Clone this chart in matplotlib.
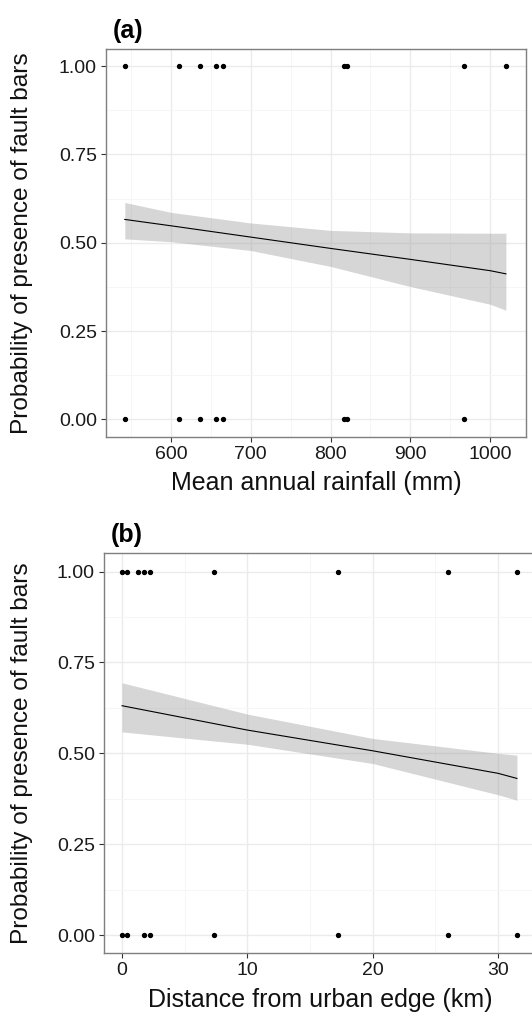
import matplotlib
matplotlib.use("Agg")
import matplotlib.pyplot as plt

plt.rcParams['font.family'] = ['Liberation Sans', 'DejaVu Sans']

# (a) rainfall: sites with / without fault bars
rain_pres = [542, 610, 636, 656, 665, 817, 821, 968, 1020]
rain_abs = [542, 610, 636, 656, 665, 817, 821, 968]
# fitted probability and 95% band
rain_fit_x = [542, 600, 700, 800, 900, 1000, 1020]
rain_fit = [0.566, 0.548, 0.516, 0.484, 0.453, 0.421, 0.412]
rain_hi = [0.614, 0.586, 0.556, 0.535, 0.528, 0.527, 0.527]
rain_lo = [0.511, 0.503, 0.478, 0.433, 0.376, 0.326, 0.309]

# (b) distance from urban edge
dist_pres = [0, 0.4, 1.3, 1.75, 2.25, 7.35, 17.2, 26.0, 31.5]
dist_abs = [0, 0.4, 1.75, 2.25, 7.35, 17.2, 26.0, 31.5]
dist_fit_x = [0, 10, 20, 30, 31.5]
dist_fit = [0.631, 0.564, 0.507, 0.445, 0.431]
dist_hi = [0.694, 0.608, 0.541, 0.500, 0.495]
dist_lo = [0.559, 0.525, 0.472, 0.386, 0.371]

yticks = [0, 0.25, 0.5, 0.75, 1.0]
ylabels = ['0.00', '0.25', '0.50', '0.75', '1.00']
ylab = 'Probability of presence of fault bars'

W, H = 532, 1023
fig = plt.figure(figsize=(W / 100, H / 100), dpi=100)


def panel(rect, xp, xa, fx, fy, lo, hi, xlim, xt, xminor, xlabel, tag):
    ax = fig.add_axes(rect)
    ax.set_xlim(xlim)
    ax.set_ylim(-0.05, 1.05)
    ax.set_xticks(xt)
    ax.set_xticks(xminor, minor=True)
    ax.set_yticks(yticks)
    ax.set_yticklabels(ylabels)
    ax.set_yticks([0.125, 0.375, 0.625, 0.875], minor=True)
    ax.grid(which='major', color='#ebebeb', lw=1.0, zorder=0)
    ax.grid(which='minor', color='#f6f6f6', lw=0.7, zorder=0)
    ax.tick_params(which='minor', length=0)
    ax.tick_params(which='major', length=3.5, width=0.8, color='#333333',
                   labelsize=14, labelcolor='#1a1a1a', pad=3)
    for s in ax.spines.values():
        s.set_color('#7f7f7f')
        s.set_linewidth(1.0)
    ax.fill_between(fx, lo, hi, color='#999999', alpha=0.4, lw=0, zorder=2)
    ax.plot(fx, fy, color='black', lw=0.8, zorder=3)
    ax.scatter(xp, [1] * len(xp), s=8, color='black', zorder=4)
    ax.scatter(xa, [0] * len(xa), s=8, color='black', zorder=4)
    ax.set_xlabel(xlabel, fontsize=18, color='#111111', labelpad=6)
    ax.set_ylabel(ylab, fontsize=17.6, color='#111111')
    # right edge of the rotated label sits ~33 px from the figure edge
    ax.yaxis.set_label_coords((33 - rect[0] * W) / (rect[2] * W), 0.5)
    ax.text(0.015, 1.015, tag, transform=ax.transAxes, fontsize=18,
            fontweight='bold', va='bottom', ha='left')
    return ax


# panel boxes in pixels: left, top, right, bottom
def rect(l, t, r, b):
    return [l / W, (H - b) / H, (r - l) / W, (b - t) / H]


panel(rect(106, 48.5, 526, 437), rain_pres, rain_abs, rain_fit_x, rain_fit,
      rain_lo, rain_hi, (518.4, 1045.2), [600, 700, 800, 900, 1000],
      [550, 650, 750, 850, 950], 'Mean annual rainfall (mm)', '(a)')

panel(rect(104, 553.4, 537, 953.3), dist_pres, dist_abs, dist_fit_x, dist_fit,
      dist_lo, dist_hi, (-1.44, 33.1), [0, 10, 20, 30],
      [5, 15, 25], 'Distance from urban edge (km)', '(b)')

fig.savefig('out.png', dpi=100)
